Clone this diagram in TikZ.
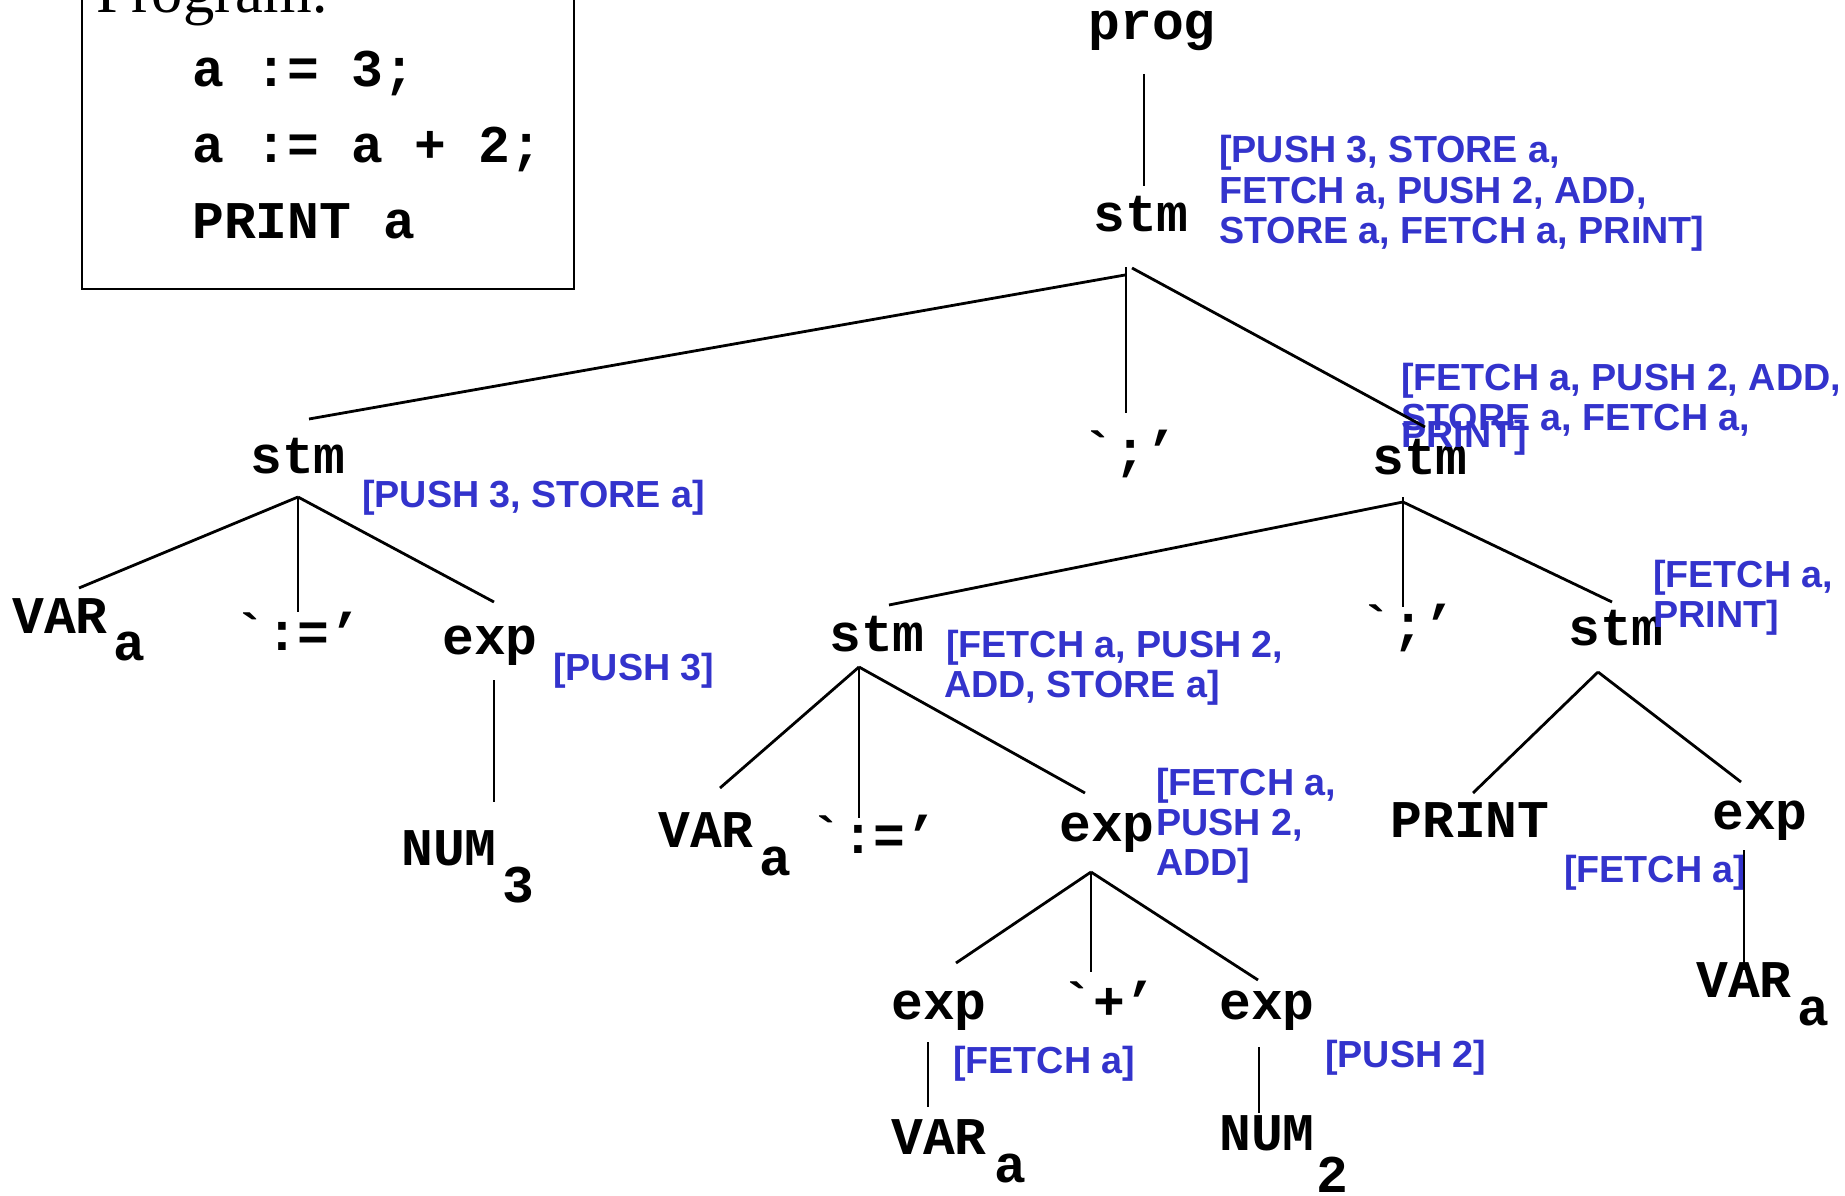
\documentclass[tikz,border=0pt]{standalone}
\usepackage{fontspec}
\newfontfamily\cour{Liberation Mono}
\newfontfamily\arl{Liberation Sans}
\newfontfamily\tms{Liberation Serif}
\definecolor{lbl}{RGB}{51,51,204}
\begin{document}
\begin{tikzpicture}[x=1pt,y=-1pt,
  tree/.style={font=\cour\bfseries\fontsize{53}{60}\selectfont, inner sep=0pt, anchor=base},
  code/.style={font=\cour\bfseries\fontsize{53}{60}\selectfont, inner sep=0pt, anchor=base west},
  annot/.style={font=\arl\bfseries\fontsize{37.7}{40}\selectfont, text=lbl, inner sep=0pt, anchor=base west},
  edge/.style={line width=2.8pt}]
\useasboundingbox (0,0) rectangle (1845,1196);
\clip (0,0) rectangle (1845,1196);
\fill[white] (0,0) rectangle (1845,1196);

% program box
\draw[line width=2.8pt] (82,-20) rectangle (574,289);
\node[anchor=base west, inner sep=0pt, font=\tms\fontsize{62.6}{70}\selectfont] (title) at (96,13) {Program:};
\node[code] (code1) at (192,87) {a := 3;};
\node[code] (code2) at (192,163) {a := a + 2;};
\node[code] (code3) at (192,238) {PRINT a};

% tree nodes
\node[tree] (prog) at (1152,40) {prog};
\node[tree] (stm0) at (1141,231) {stm};
\node[tree] (stm1) at (298,473) {stm};
\node[tree] (semi1) at (1130,468) {`;’};
\node[tree] (stm2) at (1420,474) {stm};
\node[tree] (var1) at (60,633) {VAR};
\node[tree] (var1s) at (129,660) {a};
\node[tree] (asg1) at (298,650) {`:=’};
\node[tree] (exp1) at (490,654) {exp};
\node[tree] (num3) at (449,865) {NUM};
\node[tree] (num3s) at (518,902) {3};
\node[tree] (stm3) at (877,651) {stm};
\node[tree] (semi2) at (1408,642) {`;’};
\node[tree] (stm4) at (1616,645) {stm};
\node[tree] (var2) at (706,847) {VAR};
\node[tree] (var2s) at (775,875) {a};
\node[tree] (asg2) at (874,853) {`:=’};
\node[tree] (exp2) at (1107,841) {exp};
\node[tree] (exp3) at (939,1019) {exp};
\node[tree] (plus) at (1109,1019) {`+’};
\node[tree] (exp4) at (1267,1019) {exp};
\node[tree] (var3) at (939,1154) {VAR};
\node[tree] (var3s) at (1010,1182) {a};
\node[tree] (num2) at (1267,1150) {NUM};
\node[tree] (num2s) at (1332,1192) {2};
\node[tree] (print) at (1470,837) {PRINT};
\node[tree] (exp5) at (1760,829) {exp};
\node[tree] (var4) at (1744,997) {VAR};
\node[tree] (var4s) at (1813,1025) {a};

% annotations
\node[annot] (a0a) at (1219,163) {[PUSH 3, STORE a,};
\node[annot] (a0b) at (1219,203) {FETCH a, PUSH 2, ADD,};
\node[annot] (a0c) at (1219,243) {STORE a, FETCH a, PRINT]};
\node[annot] (a1) at (362,507) {[PUSH 3, STORE a]};
\node[annot] (a2a) at (1401,390) {[FETCH a, PUSH 2, ADD,};
\node[annot] (a2b) at (1401,430) {STORE a, FETCH a,};
\node[annot] (a2c) at (1401,447) {PRINT]};
\node[annot] (a3) at (553,680) {[PUSH 3]};
\node[annot] (a4a) at (946,657) {[FETCH a, PUSH 2,};
\node[annot] (a4b) at (944,697) {ADD, STORE a]};
\node[annot] (a5a) at (1156,795) {[FETCH a,};
\node[annot] (a5b) at (1156,835) {PUSH 2,};
\node[annot] (a5c) at (1156,875) {ADD]};
\node[annot] (a6a) at (1653,587) {[FETCH a,};
\node[annot] (a6b) at (1653,627) {PRINT]};
\node[annot] (a7) at (1564,882) {[FETCH a]};
\node[annot] (a8) at (953,1073) {[FETCH a]};
\node[annot] (a9) at (1325,1067) {[PUSH 2]};

% connector end points
\coordinate (prog-b) at (1144,74);   \coordinate (stm0-t) at (1144,186);
\coordinate (stm0-bl) at (1125,275); \coordinate (stm0-b) at (1126,267); \coordinate (stm0-br) at (1132,268);
\coordinate (stm1-t) at (309,419);   \coordinate (semi1-t) at (1126,413); \coordinate (stm2-t) at (1425,427);
\coordinate (stm1-b) at (298,497);
\coordinate (var1-t) at (79,588);    \coordinate (asg1-t) at (298,612);  \coordinate (exp1-t) at (494,602);
\coordinate (exp1-b) at (494,680);   \coordinate (num3-t) at (494,802);
\coordinate (stm2-b) at (1403,502);  \coordinate (stm2-bv) at (1403,497);
\coordinate (stm3-t) at (889,605);   \coordinate (semi2-t) at (1403,607); \coordinate (stm4-t) at (1612,602);
\coordinate (stm3-b) at (859,667);
\coordinate (var2-t) at (720,788);   \coordinate (asg2-t) at (859,818);  \coordinate (exp2-t) at (1085,793);
\coordinate (exp2-b) at (1091,872);
\coordinate (exp3-t) at (956,963);   \coordinate (plus-t) at (1091,972); \coordinate (exp4-t) at (1258,980);
\coordinate (exp3-b) at (928,1042);  \coordinate (var3-t) at (928,1107);
\coordinate (exp4-b) at (1259,1047); \coordinate (num2-t) at (1259,1113);
\coordinate (stm4-b) at (1598,672);
\coordinate (print-t) at (1473,793); \coordinate (exp5-t) at (1741,782);
\coordinate (exp5-b) at (1744,850);  \coordinate (var4-t) at (1744,970);

% connectors
\draw[edge] (prog-b) -- (stm0-t);
\draw[edge] (stm0-bl) -- (stm1-t);
\draw[edge] (stm0-b) -- (semi1-t);
\draw[edge] (stm0-br) -- (stm2-t);
\draw[edge] (stm1-b) -- (var1-t);
\draw[edge] (stm1-b) -- (asg1-t);
\draw[edge] (stm1-b) -- (exp1-t);
\draw[edge] (exp1-b) -- (num3-t);
\draw[edge] (stm2-b) -- (stm3-t);
\draw[edge] (stm2-bv) -- (semi2-t);
\draw[edge] (stm2-b) -- (stm4-t);
\draw[edge] (stm3-b) -- (var2-t);
\draw[edge] (stm3-b) -- (asg2-t);
\draw[edge] (stm3-b) -- (exp2-t);
\draw[edge] (exp2-b) -- (exp3-t);
\draw[edge] (exp2-b) -- (plus-t);
\draw[edge] (exp2-b) -- (exp4-t);
\draw[edge] (exp3-b) -- (var3-t);
\draw[edge] (exp4-b) -- (num2-t);
\draw[edge] (stm4-b) -- (print-t);
\draw[edge] (stm4-b) -- (exp5-t);
\draw[edge] (exp5-b) -- (var4-t);
\end{tikzpicture}
\end{document}
